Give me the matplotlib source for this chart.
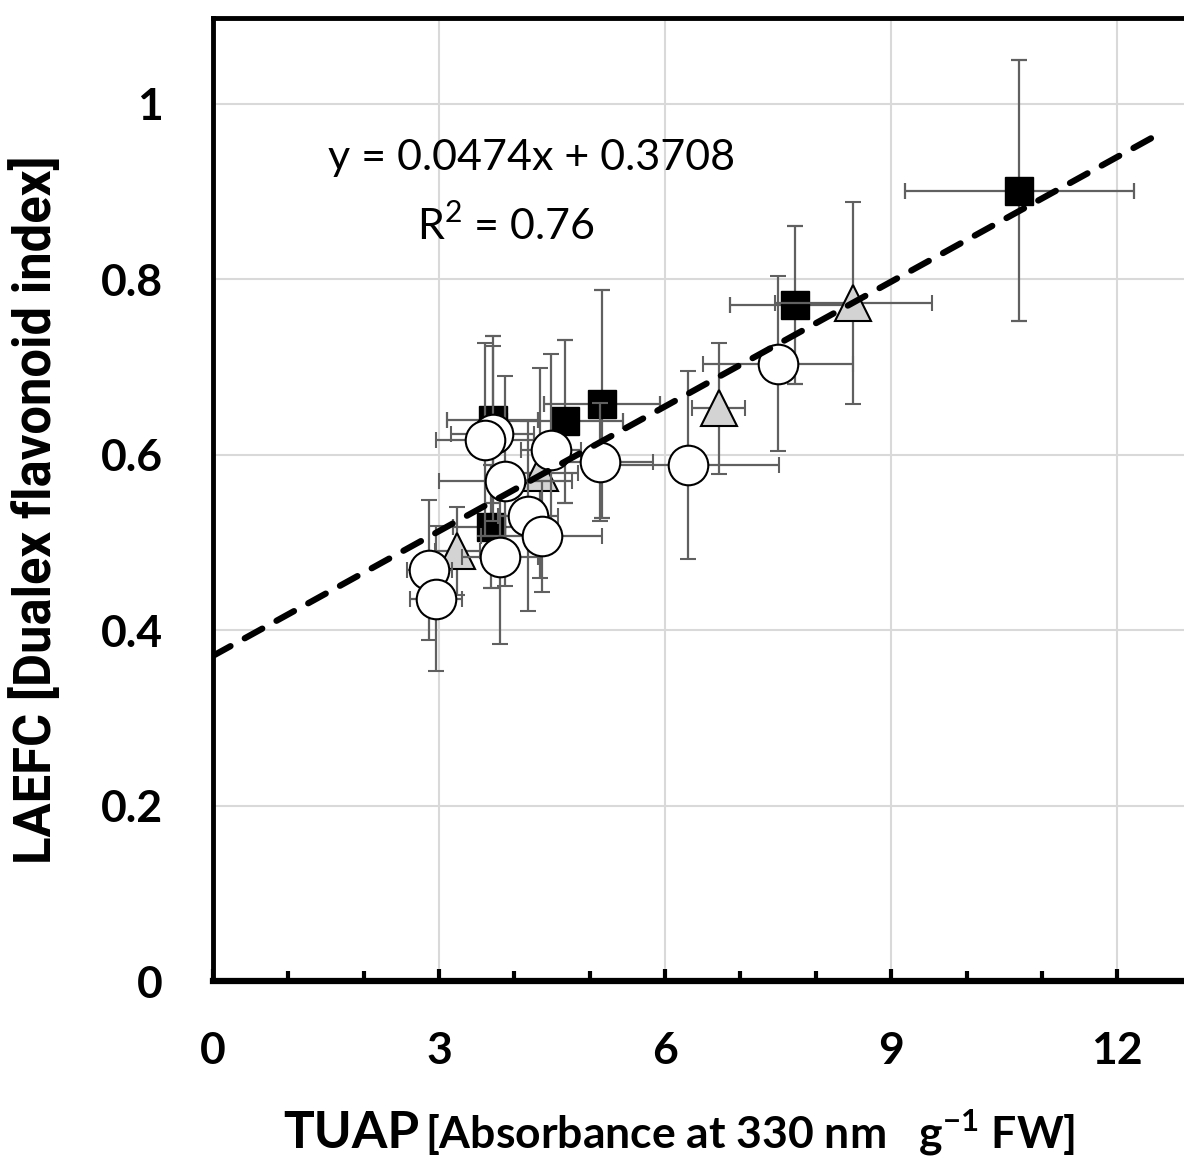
import numpy as np
import matplotlib
matplotlib.use('Agg')
import matplotlib.pyplot as plt
from matplotlib.ticker import MultipleLocator

plt.rcParams['font.family'] = ['Lato', 'DejaVu Sans']
plt.rcParams['mathtext.fontset'] = 'custom'
plt.rcParams['mathtext.rm'] = 'Lato'
plt.rcParams['mathtext.bf'] = 'Lato:bold'

# squares (black)
sq_x = [3.71, 3.69, 4.67, 5.16, 7.72, 10.70]
sq_y = [0.640, 0.518, 0.638, 0.658, 0.771, 0.901]
sq_xerr = [0.60, 0.50, 0.77, 0.77, 0.86, 1.52]
sq_yerr = [0.095, 0.07, 0.093, 0.13, 0.09, 0.149]

# triangles (grey)
tr_x = [3.24, 4.34, 6.71, 8.50]
tr_y = [0.490, 0.579, 0.653, 0.773]
tr_xerr = [0.30, 0.50, 0.35, 1.04]
tr_yerr = [0.05, 0.12, 0.075, 0.115]

# circles (white)
ci_x = [2.87, 2.96, 3.81, 4.18, 4.36, 3.88, 4.49, 5.14, 3.71, 3.61, 6.31, 7.50]
ci_y = [0.469, 0.436, 0.484, 0.530, 0.507, 0.570, 0.605, 0.592, 0.624, 0.617, 0.588, 0.704]
ci_xerr = [0.30, 0.35, 0.50, 0.40, 0.80, 0.88, 0.40, 0.70, 0.55, 0.65, 1.20, 1.00]
ci_yerr = [0.08, 0.083, 0.10, 0.108, 0.063, 0.12, 0.11, 0.067, 0.10, 0.11, 0.107, 0.10]

slope, intercept = 0.0474, 0.3708
fit_x = [0, 12.55]

W, H = 1184, 1167
fig = plt.figure(figsize=(W / 100, H / 100), dpi=100)
ax = fig.add_axes([213 / W, 1 - 981 / H, (1200 - 213) / W, (981 - 18) / H])
ax.set_xlim(0, (1200 - 213) / 75.35)
ax.set_ylim(0, (981 - 18) / 877)

ebkw = dict(ecolor='#606060', elinewidth=1.6, capsize=5.5, capthick=1.6, linestyle='none')
ax.errorbar(sq_x, sq_y, xerr=sq_xerr, yerr=sq_yerr, marker='s', ms=20,
            mfc='black', mec='black', zorder=3, **ebkw)
ax.errorbar(tr_x, tr_y, xerr=tr_xerr, yerr=tr_yerr, marker='^', ms=26,
            mfc='#d3d3d3', mec='black', mew=1.5, zorder=4, **ebkw)
ax.errorbar(ci_x, ci_y, xerr=ci_xerr, yerr=ci_yerr, marker='o', ms=28.5,
            mfc='white', mec='black', mew=1.5, zorder=5, **ebkw)

fx = np.array(fit_x)
ax.plot(fx, slope * fx + intercept, color='black', lw=4.5, ls=(0, (3.2, 2.6)),
        dash_capstyle='round', zorder=6)

ax.text(0.323, 0.855, 'y = 0.0474x + 0.3708', transform=ax.transAxes,
        fontsize=31, ha='center', va='center')
ax.text(0.297, 0.785, 'R$^2$ = 0.76', transform=ax.transAxes,
        fontsize=31, ha='center', va='center')

ax.xaxis.set_major_locator(MultipleLocator(3))
ax.xaxis.set_minor_locator(MultipleLocator(1))
ax.yaxis.set_major_locator(MultipleLocator(0.2))
ax.grid(True, which='major', color='#d9d9d9', lw=1.5)
ax.set_axisbelow(True)
ax.tick_params(axis='x', which='major', direction='in', length=9, width=3, pad=36,
               labelsize=32)
ax.tick_params(axis='x', which='minor', direction='in', length=7, width=3)
ax.tick_params(axis='y', which='major', length=0, pad=36, labelsize=32)
ax.set_xticks([0, 3, 6, 9, 12])
ax.set_xticklabels(['0', '3', '6', '9', '12'], fontweight='bold')
ax.set_yticks([0, 0.2, 0.4, 0.6, 0.8, 1.0])
ax.set_yticklabels(['0', '0.2', '0.4', '0.6', '0.8', '1'], fontweight='bold')

ax.spines['left'].set_linewidth(3.5)
ax.spines['top'].set_linewidth(3.5)
ax.spines['bottom'].set_linewidth(4.5)
ax.spines['right'].set_visible(False)

fig.text(36 / W, 1 - 510 / H, 'LAEFC [Dualex flavonoid index]', rotation=90,
         ha='center', va='center', fontsize=36.5, fontweight='bold',
         family=['Roboto', 'DejaVu Sans'])
fig.text(419 / W, 1 - 1133 / H, 'TUAP', ha='right', va='center',
         fontsize=37, fontweight='bold')
fig.text(425 / W, 1 - 1133 / H, r'[Absorbance at 330 nm   g$^{\mathbf{-1}}$ FW]',
         ha='left', va='center', fontsize=32, fontweight='bold')

fig.savefig('out.png', dpi=100)
